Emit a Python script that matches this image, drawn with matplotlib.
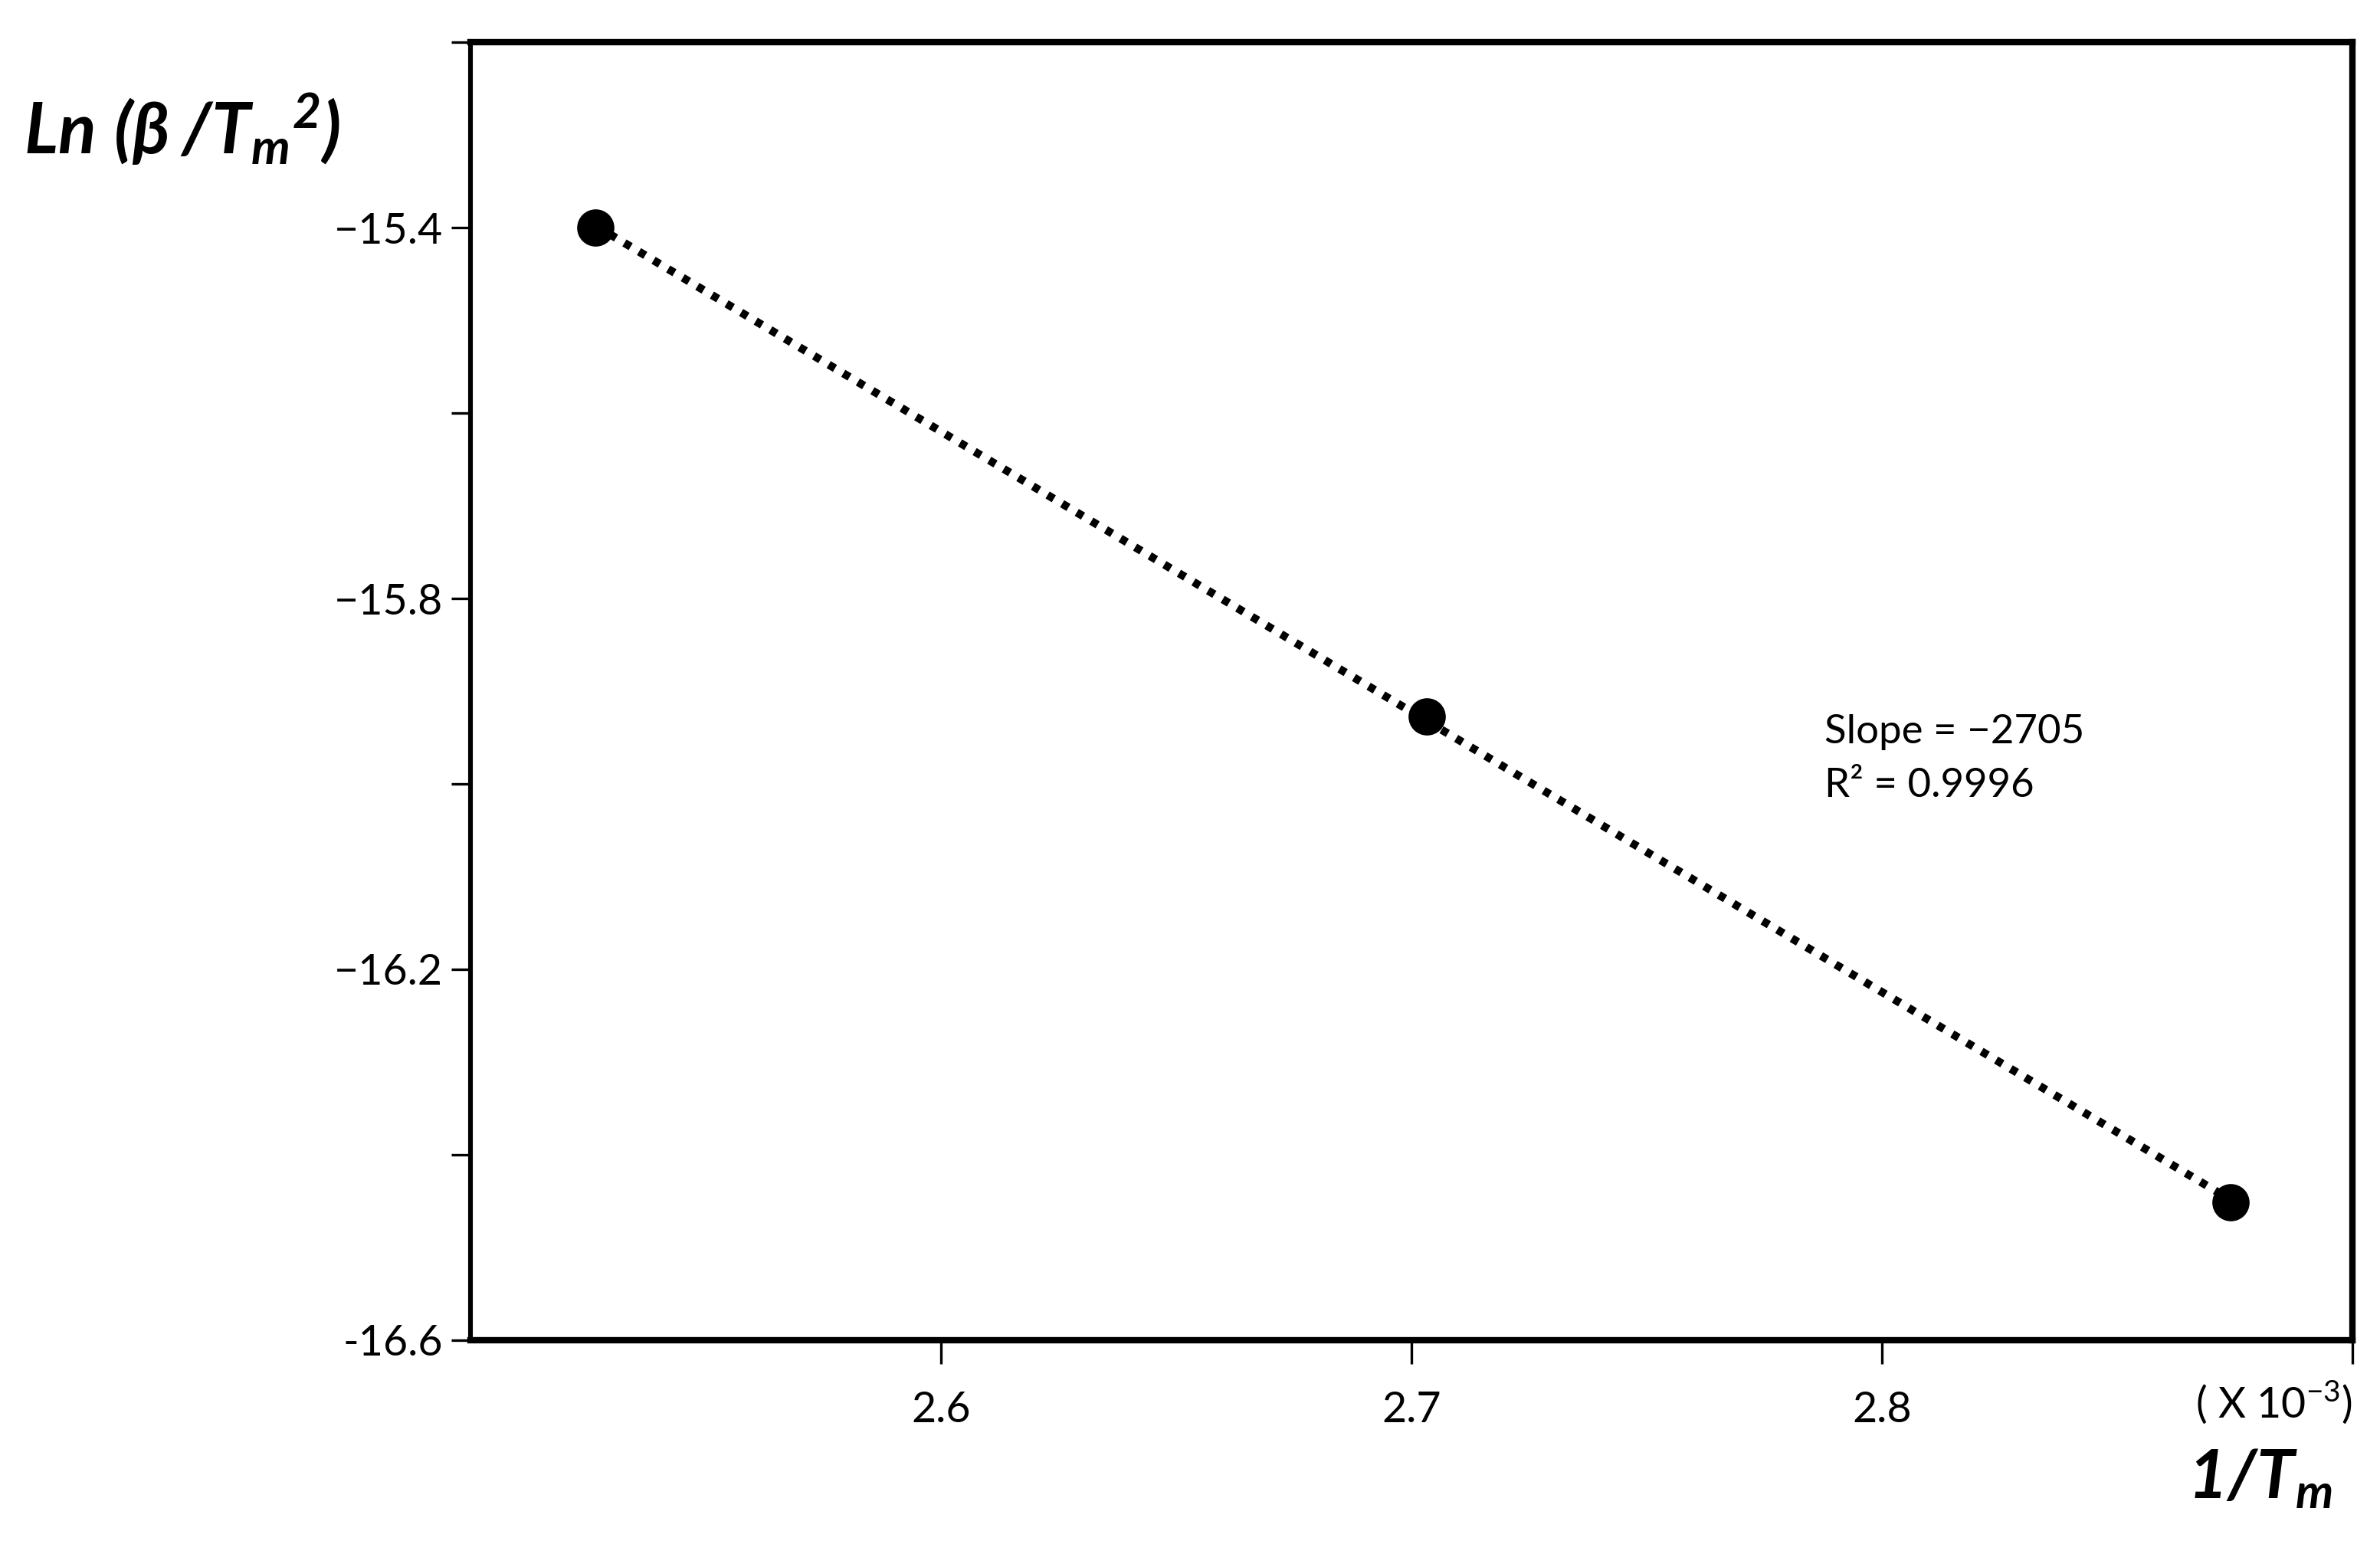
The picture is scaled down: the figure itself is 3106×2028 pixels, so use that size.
#!/usr/bin/env python3
import numpy as np
import matplotlib.pyplot as plt
from matplotlib.ticker import MultipleLocator

# === DATA ===
inv_tm = [2.5265, 2.7032, 2.8740]          # 1/Tm  (x 10^-3)
ln_beta = [-15.400, -15.927, -16.451]      # Ln(beta/Tm^2)
slope_txt = "Slope = \u22122705"
r2_txt = "R\u00b2 = 0.9996"

x_ticks = [2.6, 2.7, 2.8, 2.9]
x_labels = ["2.6", "2.7", "2.8", ""]
y_major = [-15.4, -15.8, -16.2, -16.6]
y_labels = ["\u221215.4", "\u221215.8", "\u221216.2", "-16.6"]

plt.rcParams["font.family"] = ["Lato", "DejaVu Sans"]
plt.rcParams["mathtext.fontset"] = "custom"
plt.rcParams["mathtext.bfit"] = "Lato:italic:bold"
plt.rcParams["mathtext.rm"] = "Lato"

fig = plt.figure(figsize=(15.53, 10.14), dpi=200)
ax = fig.add_axes([0.1977, 0.1377, 0.7908, 0.835])

# trend line (dotted) + points
coef = np.polyfit(inv_tm, ln_beta, 1)
xl = np.array([inv_tm[0], inv_tm[-1]])
ax.plot(xl, np.polyval(coef, xl), color="black", lw=3.8,
        linestyle=(0, (0.9, 1.2)), zorder=2)
ax.plot(inv_tm, ln_beta, "o", color="black", ms=16.5, zorder=3)

ax.set_xlim(2.5, 2.9)
ax.set_ylim(-16.6, -15.2)

ax.set_xticks(x_ticks)
ax.set_xticklabels(x_labels)
ax.set_yticks(y_major)
ax.set_yticklabels(y_labels)
ax.yaxis.set_minor_locator(MultipleLocator(0.2))

ax.tick_params(axis="x", which="major", direction="out", length=11, width=1.2,
               labelsize=20, pad=13)
ax.tick_params(axis="y", which="both", direction="out", length=9, width=1.2,
               labelsize=20, pad=4)

for s in ["top", "bottom", "right"]:
    ax.spines[s].set_linewidth(3.0)
ax.spines["left"].set_linewidth(2.2)

# axis titles
fig.text(0.010, 0.917, r"$\mathbfit{Ln}$ $\mathbfit{(\beta\,/T_m{}^{2})}$",
         fontsize=33, ha="left", va="center")
fig.text(0.980, 0.048, r"$\mathbfit{1/T_m}$", fontsize=32, ha="right", va="center")
ax.text(1.0, -0.048, "( X 10$^{-3}$)", transform=ax.transAxes,
        fontsize=20, ha="right", va="center")

ax.text(2.7877, -15.944, slope_txt, fontsize=19, ha="left", va="center")
ax.text(2.7877, -16.002, r2_txt, fontsize=19, ha="left", va="center")

plt.savefig("out.png", dpi=200)
